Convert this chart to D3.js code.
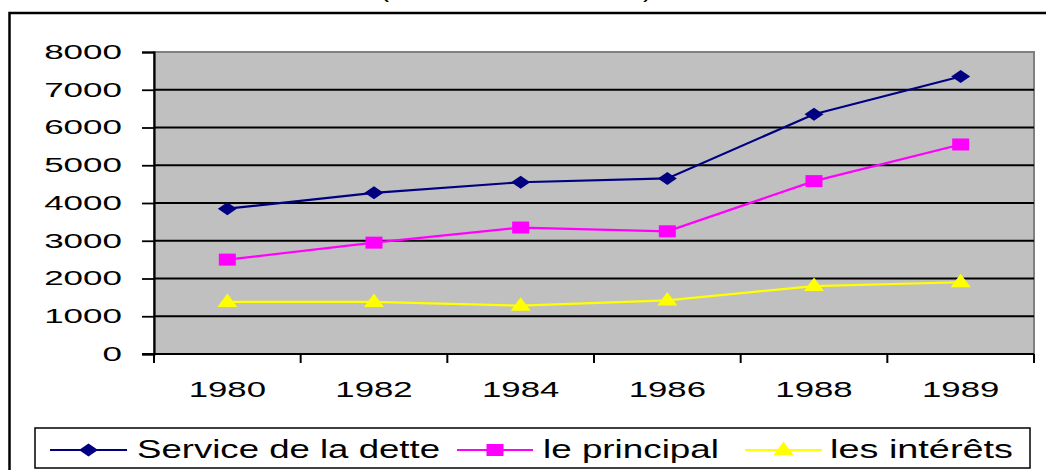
<!DOCTYPE html>
<html>
<head>
<meta charset="utf-8">
<script src="https://cdn.jsdelivr.net/npm/d3@7"></script>
<style>
  html, body { margin: 0; padding: 0; background: #fff; overflow: hidden; }
  svg { display: block; font-family: "Liberation Sans", Arial, sans-serif; }
</style>
</head>
<body>
<svg id="chart" width="1046" height="470"></svg>
<script>
// --- data ---
const years = ['1980', '1982', '1984', '1986', '1988', '1989'];
const serviceDette = [3850, 4270, 4550, 4650, 6350, 7350];
const principal = [2500, 2950, 3350, 3250, 4580, 5550];
const interets = [1380, 1380, 1280, 1420, 1800, 1900];
const yTicks = [0, 1000, 2000, 3000, 4000, 5000, 6000, 7000, 8000];

const series = [
  { name: 'Service de la dette', values: serviceDette, color: '#000080', marker: 'diamond' },
  { name: 'le principal', values: principal, color: '#ff00ff', marker: 'square' },
  { name: 'les intérêts', values: interets, color: '#ffff00', marker: 'triangle' },
];

const svg = d3.select('#chart');
const plot = { left: 154, top: 52, right: 1034, bottom: 354 };

// outer frame (cut off on the right and bottom)
svg.append('rect')
  .attr('x', 9.5).attr('y', 13).attr('width', 1100).attr('height', 500)
  .attr('fill', 'none').attr('stroke', '#000').attr('stroke-width', 2.5);

// title, mostly above the top edge (only the bracket tips show)
svg.append('text')
  .attr('x', 380).attr('y', -3.5)
  .attr('font-size', 22)
  .attr('textLength', 272).attr('lengthAdjust', 'spacingAndGlyphs')
  .text('(en millions de dollars)');

const x = d3.scaleBand().domain(years).range([plot.left, plot.right]).padding(0);
const y = d3.scaleLinear().domain([0, 8000]).range([plot.bottom, plot.top]);

// plot area
svg.append('rect')
  .attr('x', plot.left).attr('y', plot.top)
  .attr('width', plot.right - plot.left).attr('height', plot.bottom - plot.top)
  .attr('fill', '#c0c0c0').attr('stroke', '#808080').attr('stroke-width', 2);

// grid lines
svg.append('g').selectAll('line')
  .data(yTicks.filter(d => d > 0 && d < 8000))
  .join('line')
  .attr('x1', plot.left).attr('x2', plot.right)
  .attr('y1', d => y(d)).attr('y2', d => y(d))
  .attr('stroke', '#000').attr('stroke-width', 1.8);

// y axis
const sxY = 1.75;
const yAxis = svg.append('g')
  .attr('transform', `translate(${plot.left},0)`)
  .call(d3.axisLeft(y).tickValues(yTicks).tickSize(12).tickPadding(20).tickFormat(d3.format('d')));
yAxis.select('.domain').attr('stroke', '#000').attr('stroke-width', 2.2);
yAxis.selectAll('.tick line').attr('stroke', '#000').attr('stroke-width', 1.8);
yAxis.selectAll('.tick text')
  .attr('font-size', 20).attr('fill', '#000')
  .attr('font-family', '"Liberation Sans", Arial, sans-serif')
  .attr('x', -32 / sxY)
  .attr('transform', `scale(${sxY},1)`);

// x axis: line, ticks at band boundaries, labels at band centres
const xAxis = svg.append('g');
xAxis.append('line')
  .attr('x1', plot.left - 12).attr('x2', plot.right)
  .attr('y1', plot.bottom).attr('y2', plot.bottom)
  .attr('stroke', '#000').attr('stroke-width', 2.2);
const bounds = years.map(d => x(d)).concat([x.range()[1]]);
xAxis.selectAll('line.tick')
  .data(bounds)
  .join('line')
  .attr('class', 'tick')
  .attr('x1', d => d).attr('x2', d => d)
  .attr('y1', plot.bottom).attr('y2', plot.bottom + 9)
  .attr('stroke', '#000').attr('stroke-width', 2);
const sxX = 1.58;
xAxis.selectAll('text')
  .data(years)
  .join('text')
  .attr('transform', d => `translate(${x(d) + x.bandwidth() / 2},397) scale(${sxX},1)`)
  .attr('text-anchor', 'middle')
  .attr('font-size', 22)
  .text(d => d);

// marker shapes (slightly wider than tall, as in the picture)
function markerPath(type) {
  if (type === 'diamond') return 'M-9.5,0L0,-6.5L9.5,0L0,6.5Z';
  if (type === 'square') return 'M-8.5,-6H8.5V6H-8.5Z';
  return 'M0,-8.5L10,5H-10Z';
}

const line = d3.line()
  .x((d, i) => x(years[i]) + x.bandwidth() / 2)
  .y(d => y(d));

series.forEach(s => {
  const g = svg.append('g');
  g.append('path')
    .attr('d', line(s.values))
    .attr('fill', 'none')
    .attr('stroke', s.color)
    .attr('stroke-width', 2.2);
  g.selectAll('path.mk')
    .data(s.values)
    .join('path')
    .attr('class', 'mk')
    .attr('d', markerPath(s.marker))
    .attr('transform', (d, i) => `translate(${x(years[i]) + x.bandwidth() / 2},${y(d)})`)
    .attr('fill', s.color);
});

// legend
const legendItems = [
  { x0: 50, x1: 127, tx: 137, tw: 303 },
  { x0: 457, x1: 533, tx: 543, tw: 176 },
  { x0: 745, x1: 822, tx: 830, tw: 183 },
];
const legend = svg.append('g');
legend.append('rect')
  .attr('x', 35).attr('y', 428).attr('width', 995).attr('height', 40)
  .attr('fill', '#fff').attr('stroke', '#000').attr('stroke-width', 1.5);
series.forEach((s, i) => {
  const li = legendItems[i];
  legend.append('line')
    .attr('x1', li.x0).attr('x2', li.x1).attr('y1', 450).attr('y2', 450)
    .attr('stroke', s.color).attr('stroke-width', 2);
  legend.append('path')
    .attr('d', markerPath(s.marker))
    .attr('transform', `translate(${(li.x0 + li.x1) / 2},450)`)
    .attr('fill', s.color);
  legend.append('text')
    .attr('x', li.tx).attr('y', 458)
    .attr('font-size', 25)
    .attr('textLength', li.tw).attr('lengthAdjust', 'spacingAndGlyphs')
    .text(s.name);
});
</script>
</body>
</html>
